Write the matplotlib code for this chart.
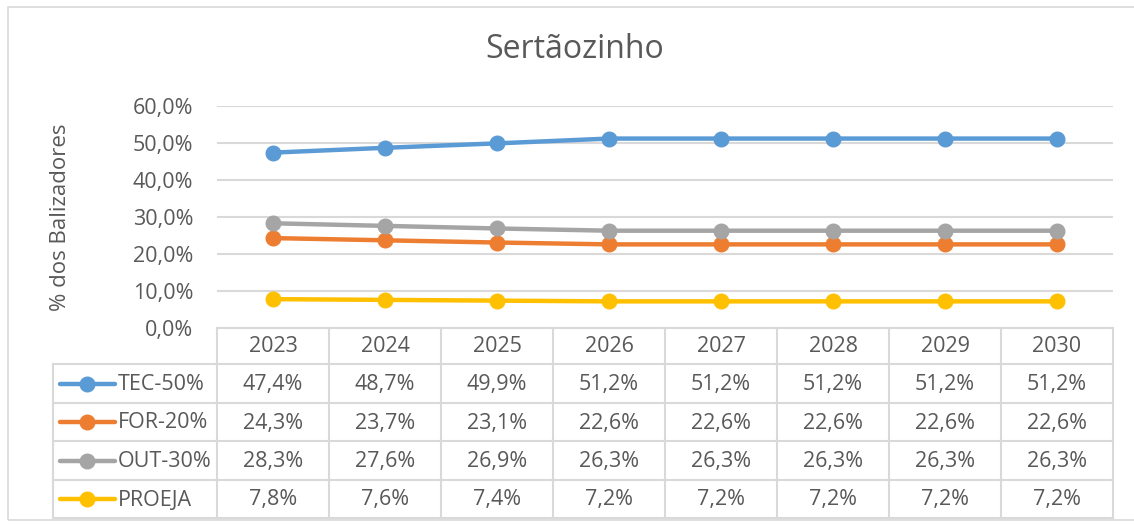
import matplotlib.pyplot as plt
from matplotlib.lines import Line2D
from matplotlib.patches import Rectangle

plt.rcParams['font.family'] = ['Open Sans', 'DejaVu Sans']

# dados
anos = ['2023', '2024', '2025', '2026', '2027', '2028', '2029', '2030']
series = ['TEC-50%', 'FOR-20%', 'OUT-30%', 'PROEJA']
tec = [47.4, 48.7, 49.9, 51.2, 51.2, 51.2, 51.2, 51.2]
form = [24.3, 23.7, 23.1, 22.6, 22.6, 22.6, 22.6, 22.6]
out = [28.3, 27.6, 26.9, 26.3, 26.3, 26.3, 26.3, 26.3]
proeja = [7.8, 7.6, 7.4, 7.2, 7.2, 7.2, 7.2, 7.2]
valores = [tec, form, out, proeja]
cores = ['#5B9BD5', '#ED7D31', '#A5A5A5', '#FFC000']
yticks = [0, 10, 20, 30, 40, 50, 60]

texto = '#595959'
grade = '#D9D9D9'
fs = 15.5

W, H = 1134, 524
fig = plt.figure(figsize=(W / 100, H / 100), dpi=100)

# moldura do grafico
fig.patches.append(Rectangle((8 / W, 1 - 520 / H), 1130 / W, 513 / H,
                             transform=fig.transFigure, fill=False,
                             edgecolor=grade, lw=1.2))

fig.text(575 / W, 1 - 50 / H, 'Sertãozinho', ha='center', va='center',
         fontsize=23, color=texto)

# area do grafico
ax = fig.add_axes([217 / W, 1 - 328 / H, 896 / W, 222 / H])
x = list(range(len(anos)))
for vals, cor in zip(valores, cores):
    ax.plot(x, vals, color=cor, lw=3.2, marker='o', markersize=10.5,
            solid_capstyle='round', zorder=3)
ax.set_xlim(-0.5, len(anos) - 0.5)
ax.set_ylim(0, 60)
ax.set_yticks(yticks)
ax.set_yticklabels([f'{v:.1f}%'.replace('.', ',') for v in yticks],
                   fontsize=fs, color=texto)
ax.tick_params(axis='y', length=0, pad=17)
ax.set_xticks([])
ax.grid(axis='y', color=grade, lw=1.5)
ax.set_axisbelow(True)
for s in ax.spines.values():
    s.set_visible(False)
fig.text(61 / W, 1 - 217 / H, '% dos Balizadores', rotation=90,
         ha='center', va='center', fontsize=16, color=texto)

# tabela de dados abaixo do grafico
label_w = (217 - 53) / 112
tab = fig.add_axes([53 / W, 1 - 518 / H, (1113 - 53) / W, 190 / H])
tab.set_xlim(-0.5 - label_w, len(anos) - 0.5)
tab.set_ylim(190, 0)
tab.axis('off')
bordas = [0, 36, 75, 113, 152, 190]
x0 = -0.5 - label_w
x1 = len(anos) - 0.5

tab.plot([-0.5, x1], [0, 0], color=grade, lw=1.5, clip_on=False)
for b in bordas[1:]:
    tab.plot([x0, x1], [b, b], color=grade, lw=1.5, clip_on=False)
tab.plot([x0, x0], [bordas[1], bordas[-1]], color=grade, lw=1.5, clip_on=False)
for i in range(len(anos) + 1):
    tab.plot([i - 0.5, i - 0.5], [0, bordas[-1]], color=grade, lw=1.5,
             clip_on=False)

for i, ano in enumerate(anos):
    tab.text(i, (bordas[0] + bordas[1]) / 2 + 1, ano, ha='center',
             va='center', fontsize=fs, color=texto)

for r, (nome, vals, cor) in enumerate(zip(series, valores, cores)):
    yc = (bordas[r + 1] + bordas[r + 2]) / 2
    lx = [x0 + 7 / 112, x0 + 62 / 112]
    tab.add_line(Line2D(lx, [yc, yc], color=cor, lw=3.2,
                        solid_capstyle='round'))
    tab.plot([x0 + 34 / 112], [yc], 'o', color=cor, markersize=10.5)
    tab.text(x0 + 65 / 112, yc + 1, nome, ha='left', va='center',
             fontsize=fs, color=texto)
    for i, v in enumerate(vals):
        tab.text(i, yc + 1, f'{v:.1f}%'.replace('.', ','), ha='center',
                 va='center', fontsize=fs, color=texto)

fig.savefig('out.png', dpi=100, facecolor='white')
